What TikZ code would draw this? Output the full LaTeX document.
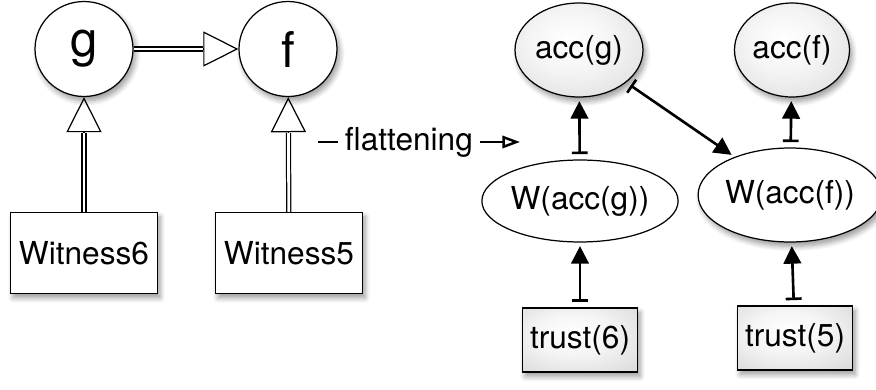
\documentclass[tikz,border=0pt]{standalone}
\usepackage{fontspec}
\setmainfont{TeX Gyre Heros}
\usetikzlibrary{arrows.meta}
\usetikzlibrary{shadows, shadows.blur}
\usetikzlibrary{shapes, positioning}
\pgfdeclareradialshading{softG}{\pgfpoint{-4bp}{6bp}}{%
    color(0bp)=(white); color(16bp)=(gray!8); color(50bp)=(gray!40); color(72bp)=(gray!55)}
\tikzset{
    dropS/.style={
        blur shadow={shadow xshift=1.5pt, shadow yshift=-2.5pt, shadow blur steps=6, shadow blur radius=3pt}
    },
    circN/.style={draw, ellipse, line width=.7pt, fill=white, inner sep=0pt,
        minimum width=1.96cm, minimum height=1.9cm, font=\fontsize{28}{30}\selectfont, dropS},
    boxN/.style={draw, rectangle, line width=.7pt, fill=white,
        minimum width=2.94cm, minimum height=1.62cm, dropS},
    shadeE/.style={draw, ellipse, line width=.7pt, inner sep=0pt, shading=softG},
    plainE/.style={draw, ellipse, line width=.7pt, fill=white, inner sep=0pt},
    shadeR/.style={draw, rectangle, line width=.7pt, shading=softG,
        minimum width=2.3cm, minimum height=1.28cm, dropS},
    implHead/.style={-{Triangle[open, width=20pt, length=20pt, line width=.7pt]}, line width=.7pt},
    implShaft/.style={double, double distance=1.6pt, line width=.7pt, shorten >=20.3pt},
    barTri/.style={{Bar[width=9pt]}-{Triangle[width=10pt, length=10pt]}, line width=1.5pt,
        shorten <=3pt, shorten >=2pt},
    flatA/.style={-{Triangle[open, width=7pt, length=10pt, line width=1.4pt]}, line width=1.5pt}
}
\begin{document}
\begin{tikzpicture}[x=0.02cm, y=-0.02cm, font=\fontsize{18}{21}\selectfont]
    \useasboundingbox (0,0) rectangle (876,389);
    % left: the witnesses and their functions
    \node[circN] (g) at (84,49) {g};
    \node[circN] (f) at (288,49) {f};
    \node[boxN] (w6) at (84,253) {Witness6};
    \node[boxN] (w5) at (289,253) {Witness5};
    \foreach \a/\b in {g/f, w6/g, w5/f}{
        \draw[implHead] (\a) -- (\b);
        \draw[implShaft] (\a) -- (\b);
    }
    % the step in between
    \coordinate (fl1) at (318,142);
    \coordinate (fl2) at (520,142);
    \draw[flatA] (fl1) -- node[pos=.45, fill=white, inner sep=4pt] (flat) {flattening} (fl2);
    % right: the flattened graph
    \node[shadeE, dropS, minimum width=2.56cm, minimum height=1.88cm] (accg) at (579,50) {acc(g)};
    \node[shadeE, dropS, minimum width=2.3cm, minimum height=1.88cm] (accf) at (792,50) {acc(f)};
    \node[plainE, minimum width=3.74cm, minimum height=1.64cm] (waccg) at (580,201) {W(acc(g))};
    \node[plainE, dropS, minimum width=3.4cm, minimum height=1.88cm] (waccf) at (790,195) {W(acc(f))};
    \node[shadeR] (t6) at (580,340) {trust(6)};
    \node[shadeR] (t5) at (795,338) {trust(5)};
    \draw[barTri] (t6) -- (waccg);
    \draw[barTri] (t5) -- (waccf);
    \draw[barTri] (waccg) -- (accg);
    \draw[barTri] (waccf) -- (accf);
    \draw[barTri] (accg) -- (waccf);
\end{tikzpicture}
\end{document}
